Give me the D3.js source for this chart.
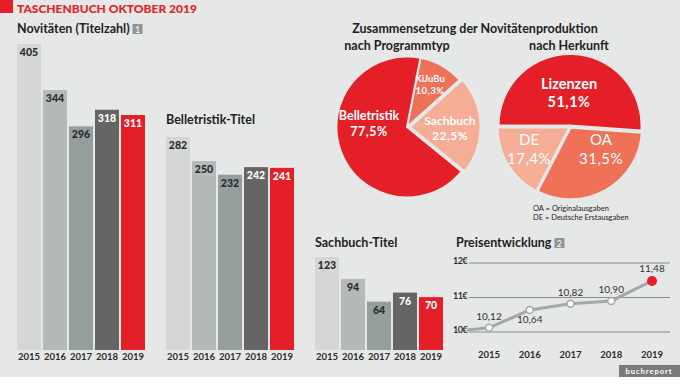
<!DOCTYPE html>
<html>
<head>
<meta charset="utf-8">
<script src="https://cdn.jsdelivr.net/npm/d3@7"></script>
<style>
  body { margin: 0; background: #fff; }
  svg { display: block; }
  text { font-family: Lato, "Open Sans", sans-serif; }
</style>
</head>
<body>
<svg id="chart" width="680" height="387"></svg>
<script>
// ---- data ----
const years = [2015, 2016, 2017, 2018, 2019];
const novitaeten = [405, 344, 296, 318, 311];
const belletristik = [282, 250, 232, 242, 241];
const sachbuch = [123, 94, 64, 76, 70];

// KiJuBu is a part of Belletristik (77,5% incl. 10,3% KiJuBu)
const progNames = ["KiJuBu", "Sachbuch", "Belletristik"];
const progPct = [10.3, 22.5, 77.5];

const herkunftNames = ["Lizenzen", "OA", "DE"];
const herkunftPct = [51.1, 31.5, 17.4];

const priceYears = [2015, 2016, 2017, 2018, 2019];
const prices = [10.12, 10.64, 10.82, 10.90, 11.48];
const priceLeadIn = 10.0; // 2014, only the stub left of 2015 is visible
const priceTicks = [10, 11, 12];

// ---- style ----
const BG = "#e6e7e7";
const RED = "#e41f28";
const CORAL = "#ee7158";
const SALMON = "#f6ad96";
const barColors = ["#d5d6d6", "#b4b9b9", "#939e9d", "#656566", RED];
const labelColors = ["#2b2b2b", "#2b2b2b", "#2b2b2b", "#fff", "#fff"];
const fmt = d3.format(".1f");
const de = v => fmt(v).replace(".", ",");

const svg = d3.select("#chart");
svg.append("rect").attr("width", 680).attr("height", 377).attr("fill", BG);

// header
svg.append("rect").attr("x", 0).attr("y", 0).attr("width", 13).attr("height", 13).attr("fill", RED);
svg.append("text").attr("x", 17).attr("y", 13)
  .attr("font-size", 12).attr("font-weight", 900).attr("fill", RED)
  .text("TASCHENBUCH OKTOBER 2019");

function title(x, y, txt, num) {
  const t = svg.append("text").attr("x", x).attr("y", y)
    .attr("font-size", 12.5).attr("font-weight", "bold").attr("fill", "#222")
    .text(txt);
  if (num) {
    const w = t.node().getComputedTextLength();
    svg.append("rect").attr("x", x + w + 3).attr("y", y - 9).attr("width", 10).attr("height", 10).attr("fill", "#8f9594");
    svg.append("text").attr("x", x + w + 8).attr("y", y - 0.5).attr("text-anchor", "middle")
      .attr("font-size", 9).attr("fill", "#fff").text(num);
  }
}

// ---- bar charts ----
const yBar = d3.scaleLinear().domain([0, 405]).range([350, 44]);

function barChart(x0, values) {
  const x = d3.scaleBand().domain(years).range([x0, x0 + 128]).paddingInner(2 / 26);
  const g = svg.append("g");
  g.selectAll("rect").data(values).join("rect")
    .attr("x", (d, i) => x(years[i]))
    .attr("y", d => yBar(d))
    .attr("width", x.bandwidth())
    .attr("height", d => yBar(0) - yBar(d))
    .attr("fill", (d, i) => barColors[i]);
  g.selectAll(".val").data(values).join("text")
    .attr("class", "val")
    .attr("x", (d, i) => x(years[i]) + x.bandwidth() / 2)
    .attr("y", d => yBar(d) + 12)
    .attr("text-anchor", "middle")
    .attr("font-size", 10.5).attr("font-weight", 900)
    .attr("fill", (d, i) => labelColors[i])
    .text(d => d);
  g.selectAll(".yr").data(years).join("text")
    .attr("class", "yr")
    .attr("x", d => x(d) + x.bandwidth() / 2)
    .attr("y", 360)
    .attr("text-anchor", "middle")
    .attr("font-size", 9.5).attr("font-weight", "bold").attr("fill", "#2b2b2b")
    .text(d => d);
}

title(17, 33, "Novitäten (Titelzahl)", "1");
barChart(17, novitaeten);
title(166, 124, "Belletristik-Titel");
barChart(166, belletristik);
title(315, 247, "Sachbuch-Titel");
barChart(315, sachbuch);

// ---- pies ----
svg.append("text").attr("x", 475).attr("y", 33).attr("text-anchor", "middle")
  .attr("font-size", 12.5).attr("font-weight", "bold").attr("fill", "#222")
  .text("Zusammensetzung der Novitätenproduktion");
svg.append("text").attr("x", 397).attr("y", 50).attr("text-anchor", "middle")
  .attr("font-size", 12.5).attr("font-weight", "bold").attr("fill", "#222")
  .text("nach Programmtyp");
svg.append("text").attr("x", 569).attr("y", 50).attr("text-anchor", "middle")
  .attr("font-size", 12.5).attr("font-weight", "bold").attr("fill", "#222")
  .text("nach Herkunft");

const sliceStyle = {
  KiJuBu:       { fill: CORAL,  explode: 0,   dx: 23,  dy: -45, size: 9.5, bold: true },
  Sachbuch:     { fill: SALMON, explode: 3,   dx: 43,  dy: -2,  size: 12,  bold: true },
  Belletristik: { fill: RED,    explode: 0,   dx: -38, dy: -7,  size: 12.5, bold: true },
  Lizenzen:     { fill: RED,    explode: 1.5, dx: -1,  dy: -38, size: 14.5, bold: true },
  OA:           { fill: CORAL,  explode: 1,   dx: 31,  dy: 18,  size: 15,  bold: false },
  DE:           { fill: SALMON, explode: 1,   dx: -41, dy: 18,  size: 15,  bold: false }
};

function pieChart(cx, cy, r, names, slices, labels, a0) {
  const pie = d3.pie().sort(null).value(d => d.value)
    .startAngle(a0).endAngle(a0 + 2 * Math.PI);
  const arc = d3.arc().innerRadius(0).outerRadius(r);
  const data = names.map((n, i) => ({ name: n, value: slices[i], label: labels[i] }));
  const g = svg.append("g").attr("transform", `translate(${cx},${cy})`);
  const arcs = pie(data);
  g.selectAll("path").data(arcs).join("path")
    .attr("d", arc)
    .attr("transform", d => {
      const m = (d.startAngle + d.endAngle) / 2, e = sliceStyle[d.data.name].explode;
      return `translate(${Math.sin(m) * e},${-Math.cos(m) * e})`;
    })
    .attr("fill", d => sliceStyle[d.data.name].fill)
    .attr("stroke", BG).attr("stroke-width", 2).attr("stroke-linejoin", "round");
  const lab = g.selectAll(".lab").data(arcs).join("text")
    .attr("class", "lab")
    .attr("text-anchor", "middle")
    .attr("fill", "#fff")
    .attr("font-size", d => sliceStyle[d.data.name].size)
    .attr("font-weight", d => sliceStyle[d.data.name].bold ? "bold" : "normal")
    .attr("transform", d => `translate(${sliceStyle[d.data.name].dx},${sliceStyle[d.data.name].dy})`);
  lab.append("tspan").attr("x", 0).attr("dy", 0).text(d => d.data.name);
  lab.append("tspan").attr("x", 0).attr("dy", "1.25em").attr("letter-spacing", 0.5).text(d => de(d.data.label) + "%");
}

// Belletristik slice shown without its KiJuBu share
const progSlices = progNames.map((n, i) => n === "Belletristik" ? progPct[i] - progPct[0] : progPct[i]);
pieChart(407, 127, 70.5, progNames, progSlices, progPct, 11 * Math.PI / 180);
pieChart(570, 127, 71.5, herkunftNames, herkunftPct, herkunftPct, -Math.PI / 2);

svg.append("text").attr("x", 533).attr("y", 211).attr("font-size", 7.5).attr("fill", "#222")
  .text("OA = Originalausgaben");
svg.append("text").attr("x", 533).attr("y", 220).attr("font-size", 7.5).attr("fill", "#222")
  .text("DE = Deutsche Erstausgaben");

// ---- price line ----
title(456, 247, "Preisentwicklung", "2");
const xP = d3.scaleLinear().domain([2015, 2019]).range([489, 652]);
const yP = d3.scaleLinear().domain([10, 12]).range([332, 263]);

svg.append("g").selectAll("line").data(priceTicks).join("line")
  .attr("x1", 469).attr("x2", 670)
  .attr("y1", d => yP(d)).attr("y2", d => yP(d))
  .attr("stroke", "#8a8d8d").attr("stroke-width", 1);
svg.append("g").selectAll("text").data(priceTicks).join("text")
  .attr("x", 453).attr("y", d => yP(d) + 1)
  .attr("font-size", 9).attr("font-weight", "bold").attr("fill", "#333").attr("letter-spacing", -0.5)
  .text(d => d + "€");

svg.append("clipPath").attr("id", "pclip").append("rect")
  .attr("x", 467).attr("y", 250).attr("width", 200).attr("height", 100);
const lineData = [{ y: 2014, v: priceLeadIn }].concat(priceYears.map((y, i) => ({ y, v: prices[i] })));
svg.append("path").datum(lineData)
  .attr("clip-path", "url(#pclip)")
  .attr("fill", "none").attr("stroke", "#a3a9a8").attr("stroke-width", 3)
  .attr("d", d3.line().x(d => xP(d.y)).y(d => yP(d.v)));

const pts = priceYears.map((y, i) => ({ y, v: prices[i], last: i === priceYears.length - 1 }));
svg.append("g").selectAll("circle").data(pts).join("circle")
  .attr("cx", d => xP(d.y)).attr("cy", d => yP(d.v))
  .attr("r", d => d.last ? 5 : 3.5)
  .attr("fill", d => d.last ? RED : "#fff")
  .attr("stroke", d => d.last ? "none" : "#a3a9a8").attr("stroke-width", 1.5);
svg.append("g").selectAll("text").data(pts).join("text")
  .attr("x", d => xP(d.y)).attr("y", d => d.y === 2016 ? yP(d.v) + 13 : yP(d.v) - (d.last ? 9 : 8))
  .attr("text-anchor", "middle").attr("font-size", 10).attr("fill", "#333")
  .text(d => d3.format(".2f")(d.v).replace(".", ","));
svg.append("g").selectAll("text").data(priceYears).join("text")
  .attr("x", d => xP(d)).attr("y", 358)
  .attr("text-anchor", "middle").attr("font-size", 9.5).attr("font-weight", "bold").attr("fill", "#2b2b2b")
  .text(d => d);

// footer
svg.append("rect").attr("x", 619).attr("y", 365).attr("width", 61).attr("height", 12).attr("fill", "#7a7a7a");
svg.append("text").attr("x", 649).attr("y", 374).attr("text-anchor", "middle")
  .attr("font-size", 7.5).attr("font-weight", "bold").attr("letter-spacing", 1).attr("fill", "#fff")
  .text("buchreport");
</script>
</body>
</html>
